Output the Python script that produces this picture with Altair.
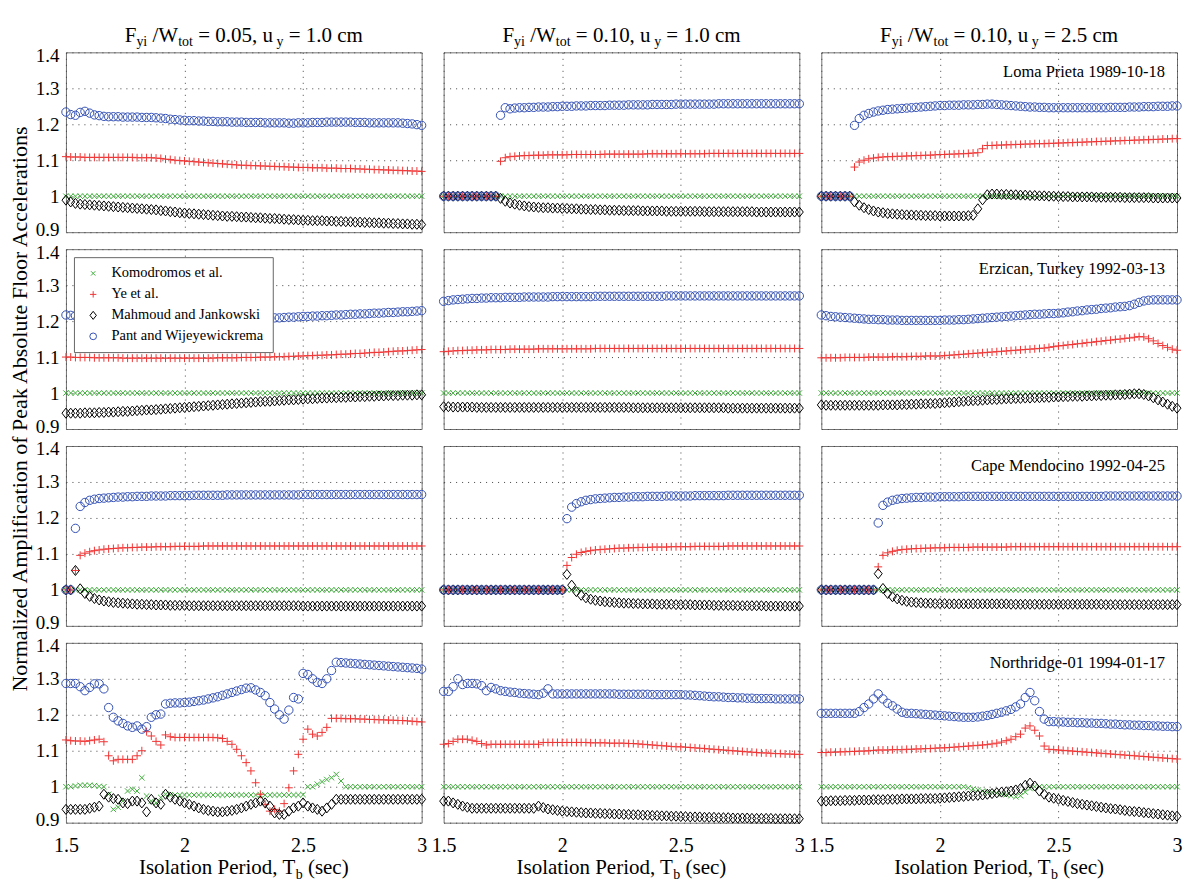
import altair as alt
import pandas as pd

FONT = "Liberation Serif"

T = [1.50, 1.52, 1.54, 1.56, 1.58, 1.60, 1.62, 1.64, 1.66, 1.68,
     1.70, 1.72, 1.74, 1.76, 1.78, 1.80, 1.82, 1.84, 1.86, 1.88,
     1.90, 1.92, 1.94, 1.96, 1.98, 2.00, 2.02, 2.04, 2.06, 2.08,
     2.10, 2.12, 2.14, 2.16, 2.18, 2.20, 2.22, 2.24, 2.26, 2.28,
     2.30, 2.32, 2.34, 2.36, 2.38, 2.40, 2.42, 2.44, 2.46, 2.48,
     2.50, 2.52, 2.54, 2.56, 2.58, 2.60, 2.62, 2.64, 2.66, 2.68,
     2.70, 2.72, 2.74, 2.76, 2.78, 2.80, 2.82, 2.84, 2.86, 2.88,
     2.90, 2.92, 2.94, 2.96, 2.98, 3.00]

SERIES = ["Komodromos et al.", "Ye et al.", "Mahmoud and Jankowski", "Pant and Wijeyewickrema"]
COLORS = ["#3fae3a", "#f03434", "#000000", "#3350b4"]
SHAPES = ["M-0.65,-0.65L0.65,0.65M-0.65,0.65L0.65,-0.65",
          "M-0.95,0L0.95,0M0,-0.95L0,0.95",
          "M0,-1.2L0.95,0L0,1.2L-0.95,0Z",
          "circle"]
COL_TITLES = [("0.05", "1.0"), ("0.10", "1.0"), ("0.10", "2.5")]
EVENTS = ["Loma Prieta 1989-10-18", "Erzican, Turkey 1992-03-13",
          "Cape Mendocino 1992-04-25", "Northridge-01 1994-01-17"]
X_TICKS = [1.5, 2.0, 2.5, 3.0]
Y_TICKS = [0.9, 1.0, 1.1, 1.2, 1.3, 1.4]

ONES = [1.0, 1.0, 1.0, 1.0, 1.0, 1.0, 1.0, 1.0, 1.0, 1.0,
        1.0, 1.0, 1.0, 1.0, 1.0, 1.0, 1.0, 1.0, 1.0, 1.0,
        1.0, 1.0, 1.0, 1.0, 1.0, 1.0, 1.0, 1.0, 1.0, 1.0,
        1.0, 1.0, 1.0, 1.0, 1.0, 1.0, 1.0, 1.0, 1.0, 1.0,
        1.0, 1.0, 1.0, 1.0, 1.0, 1.0, 1.0, 1.0, 1.0, 1.0,
        1.0, 1.0, 1.0, 1.0, 1.0, 1.0, 1.0, 1.0, 1.0, 1.0,
        1.0, 1.0, 1.0, 1.0, 1.0, 1.0, 1.0, 1.0, 1.0, 1.0,
        1.0, 1.0, 1.0, 1.0, 1.0, 1.0]

# ---------------- Loma Prieta ----------------
loma_a_ye = [1.110,1.109,1.109,1.109,1.108,1.108,1.108,1.108,1.108,1.108,
             1.108,1.108,1.108,1.108,1.108,1.107,1.107,1.107,1.107,1.106,
             1.105,1.103,1.102,1.100,1.099,1.098,1.097,1.096,1.095,1.094,
             1.093,1.092,1.091,1.090,1.089,1.088,1.087,1.086,1.086,1.085,
             1.085,1.084,1.084,1.083,1.083,1.082,1.082,1.081,1.081,1.080,
             1.080,1.080,1.079,1.079,1.079,1.078,1.078,1.078,1.077,1.077,
             1.077,1.076,1.076,1.075,1.075,1.074,1.074,1.073,1.073,1.072,
             1.072,1.071,1.071,1.070,1.070,1.069]
loma_a_mah = [0.989,0.984,0.980,0.978,0.977,0.976,0.975,0.974,0.973,0.972,
              0.971,0.970,0.969,0.968,0.967,0.966,0.965,0.964,0.963,0.962,
              0.960,0.959,0.957,0.956,0.954,0.953,0.952,0.951,0.950,0.949,
              0.948,0.947,0.946,0.945,0.944,0.944,0.943,0.942,0.942,0.941,
              0.940,0.940,0.939,0.938,0.938,0.937,0.936,0.935,0.935,0.934,
              0.933,0.933,0.932,0.932,0.932,0.931,0.931,0.930,0.930,0.929,
              0.929,0.928,0.928,0.927,0.927,0.926,0.926,0.925,0.925,0.924,
              0.924,0.923,0.923,0.922,0.922,0.921]
loma_a_pant = [1.234,1.227,1.225,1.233,1.236,1.231,1.226,1.224,1.222,1.221,
               1.221,1.221,1.220,1.220,1.220,1.220,1.219,1.219,1.219,1.218,
               1.217,1.216,1.214,1.213,1.212,1.211,1.210,1.210,1.209,1.209,
               1.208,1.208,1.207,1.207,1.207,1.206,1.206,1.206,1.205,1.205,
               1.205,1.205,1.204,1.204,1.204,1.204,1.204,1.203,1.203,1.204,
               1.204,1.204,1.205,1.205,1.205,1.206,1.206,1.206,1.206,1.206,
               1.206,1.205,1.205,1.205,1.204,1.204,1.204,1.204,1.204,1.204,
               1.204,1.203,1.202,1.201,1.199,1.197]

loma_b_ye = [1.0,1.0,1.0,1.0,1.0,1.0,1.0,1.0,1.0,1.0,
             1.0,1.0,1.097,1.107,1.110,1.111,1.112,1.113,1.113,1.114,
             1.114,1.114,1.115,1.115,1.115,1.115,1.115,1.116,1.116,1.116,
             1.116,1.116,1.116,1.116,1.117,1.117,1.117,1.117,1.117,1.117,
             1.117,1.117,1.117,1.118,1.118,1.118,1.118,1.118,1.118,1.118,
             1.118,1.118,1.118,1.118,1.118,1.118,1.119,1.119,1.119,1.119,
             1.119,1.119,1.119,1.119,1.119,1.119,1.119,1.119,1.119,1.119,
             1.119,1.119,1.119,1.119,1.119,1.119]
loma_b_mah = [1.0,1.0,1.0,1.0,1.0,1.0,1.0,1.0,1.0,1.0,
              1.0,1.0,0.994,0.986,0.981,0.978,0.975,0.973,0.971,0.970,
              0.969,0.968,0.968,0.967,0.967,0.966,0.966,0.965,0.965,0.964,
              0.964,0.963,0.963,0.962,0.962,0.961,0.961,0.961,0.960,0.960,
              0.960,0.960,0.959,0.959,0.959,0.959,0.959,0.958,0.958,0.958,
              0.958,0.958,0.958,0.958,0.958,0.957,0.957,0.957,0.957,0.957,
              0.957,0.957,0.957,0.957,0.957,0.957,0.956,0.956,0.956,0.956,
              0.956,0.956,0.956,0.956,0.956,0.956]
loma_b_pant = [1.0,1.0,1.0,1.0,1.0,1.0,1.0,1.0,1.0,1.0,
               1.0,1.0,1.225,1.246,1.243,1.245,1.246,1.246,1.247,1.247,
               1.248,1.248,1.248,1.249,1.249,1.250,1.250,1.250,1.251,1.251,
               1.251,1.252,1.252,1.252,1.252,1.253,1.253,1.253,1.253,1.254,
               1.254,1.254,1.254,1.254,1.255,1.255,1.255,1.255,1.255,1.256,
               1.256,1.256,1.256,1.256,1.256,1.256,1.256,1.256,1.257,1.257,
               1.257,1.257,1.257,1.257,1.257,1.257,1.257,1.257,1.257,1.257,
               1.257,1.257,1.257,1.257,1.257,1.257]

loma_c_ye = [1.0,1.0,1.0,1.0,1.0,1.0,1.0,1.081,1.095,1.100,
             1.104,1.106,1.108,1.109,1.110,1.110,1.111,1.111,1.112,1.112,
             1.113,1.113,1.114,1.114,1.115,1.116,1.116,1.117,1.117,1.118,
             1.118,1.119,1.120,1.121,1.132,1.141,1.141,1.142,1.142,1.143,
             1.143,1.144,1.144,1.145,1.145,1.146,1.146,1.146,1.147,1.147,
             1.148,1.148,1.149,1.149,1.150,1.150,1.151,1.151,1.152,1.152,
             1.153,1.153,1.154,1.154,1.155,1.155,1.156,1.156,1.157,1.157,
             1.158,1.158,1.159,1.159,1.160,1.160]
loma_c_mah = [1.0,1.0,1.0,1.0,1.0,1.0,1.0,0.984,0.975,0.968,
              0.963,0.959,0.956,0.954,0.952,0.951,0.950,0.949,0.948,0.948,
              0.947,0.947,0.946,0.946,0.946,0.945,0.945,0.945,0.945,0.945,
              0.945,0.946,0.947,0.965,0.990,1.004,1.006,1.006,1.005,1.005,
              1.004,1.004,1.003,1.003,1.002,1.002,1.001,1.001,1.000,1.000,
              0.999,0.999,0.999,0.998,0.998,0.998,0.998,0.998,0.997,0.997,
              0.997,0.997,0.997,0.997,0.996,0.996,0.996,0.996,0.996,0.996,
              0.995,0.995,0.995,0.995,0.995,0.995]
loma_c_pant = [1.0,1.0,1.0,1.0,1.0,1.0,1.0,1.197,1.216,1.225,
               1.230,1.234,1.237,1.239,1.241,1.242,1.243,1.244,1.245,1.246,
               1.247,1.248,1.249,1.250,1.251,1.252,1.252,1.253,1.253,1.253,
               1.254,1.254,1.254,1.255,1.255,1.256,1.256,1.255,1.254,1.253,
               1.252,1.251,1.250,1.249,1.248,1.248,1.247,1.247,1.246,1.246,
               1.246,1.246,1.246,1.246,1.246,1.246,1.246,1.246,1.246,1.246,
               1.246,1.247,1.247,1.247,1.247,1.248,1.248,1.248,1.249,1.249,
               1.249,1.250,1.250,1.250,1.251,1.251]

# ---------------- Erzican ----------------
erz_a_ye = [1.100,1.100,1.099,1.099,1.099,1.099,1.098,1.098,1.098,1.098,
            1.098,1.098,1.097,1.097,1.097,1.097,1.097,1.097,1.097,1.097,
            1.097,1.097,1.097,1.097,1.097,1.097,1.097,1.097,1.097,1.097,
            1.097,1.097,1.098,1.098,1.098,1.098,1.098,1.099,1.099,1.099,
            1.099,1.100,1.100,1.100,1.101,1.101,1.101,1.102,1.102,1.103,
            1.103,1.104,1.104,1.105,1.105,1.106,1.106,1.107,1.108,1.108,
            1.109,1.110,1.110,1.111,1.112,1.113,1.113,1.114,1.115,1.116,
            1.117,1.117,1.118,1.119,1.120,1.121]
erz_a_mah = [0.944,0.944,0.944,0.944,0.945,0.945,0.945,0.946,0.946,0.947,
             0.947,0.948,0.949,0.949,0.950,0.951,0.952,0.953,0.953,0.954,
             0.955,0.956,0.957,0.958,0.959,0.960,0.961,0.962,0.963,0.964,
             0.965,0.966,0.967,0.968,0.969,0.970,0.971,0.972,0.973,0.974,
             0.975,0.976,0.977,0.977,0.978,0.979,0.980,0.981,0.981,0.982,
             0.983,0.984,0.984,0.985,0.986,0.986,0.987,0.987,0.988,0.988,
             0.989,0.989,0.990,0.990,0.991,0.991,0.992,0.992,0.993,0.993,
             0.993,0.994,0.994,0.994,0.995,0.995]
erz_a_pant = [1.217,1.216,1.215,1.214,1.213,1.212,1.211,1.210,1.209,1.208,
              1.208,1.207,1.207,1.206,1.206,1.205,1.205,1.205,1.204,1.204,
              1.204,1.204,1.204,1.204,1.204,1.204,1.204,1.204,1.204,1.204,
              1.204,1.204,1.204,1.205,1.205,1.205,1.205,1.206,1.206,1.206,
              1.207,1.207,1.208,1.208,1.209,1.209,1.210,1.211,1.211,1.212,
              1.213,1.213,1.214,1.214,1.215,1.215,1.216,1.217,1.217,1.218,
              1.219,1.219,1.220,1.220,1.221,1.222,1.222,1.223,1.224,1.224,
              1.225,1.226,1.226,1.227,1.228,1.229]

erz_b_ye = [1.115,1.116,1.117,1.118,1.118,1.119,1.119,1.120,1.120,1.120,
            1.121,1.121,1.121,1.121,1.122,1.122,1.122,1.122,1.122,1.122,
            1.123,1.123,1.123,1.123,1.123,1.123,1.123,1.123,1.123,1.123,
            1.123,1.123,1.124,1.124,1.124,1.124,1.124,1.124,1.124,1.124,
            1.124,1.124,1.124,1.124,1.124,1.124,1.124,1.124,1.124,1.124,
            1.124,1.124,1.124,1.124,1.124,1.124,1.124,1.124,1.124,1.124,
            1.124,1.124,1.124,1.124,1.124,1.124,1.124,1.124,1.124,1.124,
            1.124,1.124,1.124,1.124,1.124,1.124]
erz_b_mah = [0.962,0.962,0.961,0.961,0.961,0.961,0.961,0.960,0.960,0.960,
             0.960,0.960,0.960,0.960,0.960,0.960,0.960,0.960,0.960,0.960,
             0.960,0.960,0.960,0.960,0.960,0.960,0.960,0.960,0.960,0.960,
             0.960,0.960,0.960,0.960,0.960,0.960,0.960,0.960,0.960,0.960,
             0.959,0.959,0.959,0.959,0.959,0.959,0.959,0.959,0.959,0.959,
             0.959,0.959,0.959,0.959,0.959,0.959,0.959,0.959,0.959,0.959,
             0.958,0.958,0.958,0.958,0.958,0.958,0.958,0.958,0.958,0.958,
             0.958,0.958,0.958,0.958,0.958,0.958]
erz_b_pant = [1.255,1.257,1.259,1.260,1.261,1.262,1.263,1.263,1.264,1.264,
              1.265,1.265,1.265,1.266,1.266,1.266,1.266,1.267,1.267,1.267,
              1.267,1.267,1.267,1.268,1.268,1.268,1.268,1.268,1.268,1.268,
              1.268,1.268,1.269,1.269,1.269,1.269,1.269,1.269,1.269,1.269,
              1.269,1.269,1.269,1.269,1.269,1.269,1.269,1.270,1.270,1.270,
              1.270,1.270,1.270,1.270,1.270,1.270,1.270,1.270,1.270,1.270,
              1.270,1.270,1.270,1.270,1.270,1.270,1.270,1.270,1.270,1.270,
              1.270,1.270,1.270,1.270,1.270,1.270]

erz_c_ye = [1.098,1.098,1.098,1.098,1.098,1.099,1.099,1.099,1.099,1.099,
            1.100,1.100,1.100,1.100,1.100,1.101,1.101,1.101,1.101,1.102,
            1.102,1.102,1.103,1.103,1.103,1.103,1.104,1.105,1.106,1.107,
            1.108,1.109,1.110,1.111,1.112,1.113,1.114,1.115,1.116,1.117,
            1.118,1.119,1.120,1.121,1.122,1.123,1.124,1.125,1.127,1.129,
            1.131,1.132,1.134,1.135,1.137,1.138,1.140,1.141,1.143,1.144,
            1.146,1.147,1.149,1.150,1.152,1.153,1.155,1.157,1.156,1.151,
            1.145,1.138,1.132,1.127,1.122,1.119]
erz_c_mah = [0.967,0.966,0.966,0.966,0.966,0.966,0.966,0.966,0.966,0.966,
             0.966,0.966,0.966,0.967,0.967,0.967,0.967,0.968,0.968,0.969,
             0.969,0.970,0.970,0.971,0.971,0.972,0.973,0.974,0.975,0.976,
             0.977,0.978,0.979,0.979,0.980,0.981,0.982,0.982,0.983,0.984,
             0.984,0.985,0.985,0.986,0.986,0.987,0.987,0.988,0.988,0.989,
             0.989,0.990,0.990,0.991,0.991,0.991,0.992,0.992,0.993,0.993,
             0.994,0.994,0.995,0.995,0.996,0.997,0.998,0.998,0.996,0.992,
             0.987,0.981,0.975,0.969,0.963,0.958]
erz_c_pant = [1.217,1.215,1.213,1.212,1.211,1.210,1.209,1.208,1.207,1.206,
              1.205,1.205,1.204,1.204,1.203,1.203,1.203,1.202,1.202,1.202,
              1.202,1.202,1.202,1.202,1.202,1.202,1.203,1.203,1.203,1.204,
              1.204,1.205,1.206,1.207,1.208,1.209,1.210,1.211,1.212,1.213,
              1.214,1.215,1.216,1.217,1.218,1.219,1.219,1.220,1.221,1.221,
              1.222,1.223,1.225,1.226,1.228,1.229,1.231,1.232,1.233,1.235,
              1.236,1.237,1.239,1.240,1.241,1.243,1.247,1.252,1.256,1.258,
              1.259,1.259,1.259,1.259,1.259,1.259]

# ---------------- Cape Mendocino ----------------
cape_a_ye = [1.000,1.000,1.054,1.096,1.102,1.106,1.109,1.111,1.113,1.114,
             1.115,1.116,1.117,1.117,1.118,1.118,1.119,1.119,1.119,1.120,
             1.120,1.120,1.120,1.121,1.121,1.121,1.121,1.121,1.121,1.122,
             1.122,1.122,1.122,1.122,1.122,1.122,1.122,1.122,1.122,1.122,
             1.122,1.122,1.122,1.122,1.122,1.122,1.122,1.122,1.122,1.122,
             1.122,1.122,1.122,1.122,1.122,1.122,1.122,1.122,1.122,1.122,
             1.122,1.122,1.122,1.122,1.122,1.122,1.122,1.122,1.122,1.122,
             1.122,1.122,1.122,1.122,1.122,1.122]
cape_a_mah = [1.000,1.000,1.054,1.003,0.990,0.982,0.976,0.972,0.969,0.967,
              0.965,0.964,0.963,0.962,0.961,0.960,0.960,0.959,0.959,0.958,
              0.958,0.958,0.957,0.957,0.957,0.957,0.956,0.956,0.956,0.956,
              0.956,0.956,0.956,0.956,0.956,0.956,0.956,0.956,0.956,0.956,
              0.956,0.956,0.956,0.956,0.956,0.956,0.956,0.956,0.956,0.956,
              0.955,0.955,0.955,0.955,0.955,0.955,0.955,0.955,0.955,0.955,
              0.955,0.955,0.955,0.955,0.955,0.955,0.955,0.955,0.955,0.955,
              0.955,0.955,0.955,0.955,0.955,0.955]
cape_a_pant = [1.000,1.000,1.171,1.232,1.243,1.249,1.252,1.254,1.255,1.256,
               1.257,1.258,1.258,1.259,1.259,1.260,1.260,1.260,1.261,1.261,
               1.261,1.261,1.262,1.262,1.262,1.262,1.262,1.263,1.263,1.263,
               1.263,1.263,1.263,1.263,1.264,1.264,1.264,1.264,1.264,1.264,
               1.264,1.264,1.264,1.264,1.264,1.264,1.264,1.264,1.264,1.264,
               1.265,1.265,1.265,1.265,1.265,1.265,1.265,1.265,1.265,1.265,
               1.265,1.265,1.265,1.265,1.265,1.265,1.265,1.265,1.265,1.265,
               1.265,1.265,1.265,1.265,1.265,1.265]

cape_b_ye = [1.0,1.0,1.0,1.0,1.0,1.0,1.0,1.0,1.0,1.0,
             1.0,1.0,1.0,1.0,1.0,1.0,1.0,1.0,1.0,1.0,
             1.0,1.0,1.0,1.0,1.0,1.0,1.068,1.090,1.099,1.104,
             1.107,1.109,1.111,1.112,1.113,1.114,1.115,1.116,1.116,1.117,
             1.117,1.118,1.118,1.118,1.119,1.119,1.119,1.119,1.120,1.120,
             1.120,1.120,1.120,1.121,1.121,1.121,1.121,1.121,1.121,1.121,
             1.122,1.122,1.122,1.122,1.122,1.122,1.122,1.122,1.122,1.122,
             1.122,1.122,1.122,1.122,1.122,1.122]
cape_b_mah = [1.0,1.0,1.0,1.0,1.0,1.0,1.0,1.0,1.0,1.0,
              1.0,1.0,1.0,1.0,1.0,1.0,1.0,1.0,1.0,1.0,
              1.0,1.0,1.0,1.0,1.0,1.0,1.043,1.013,0.995,0.985,
              0.978,0.974,0.971,0.969,0.967,0.966,0.965,0.964,0.963,0.963,
              0.962,0.962,0.961,0.961,0.961,0.960,0.960,0.960,0.960,0.959,
              0.959,0.959,0.959,0.958,0.958,0.958,0.958,0.957,0.957,0.957,
              0.957,0.957,0.956,0.956,0.956,0.956,0.956,0.956,0.955,0.955,
              0.955,0.955,0.955,0.955,0.955,0.955]
cape_b_pant = [1.0,1.0,1.0,1.0,1.0,1.0,1.0,1.0,1.0,1.0,
               1.0,1.0,1.0,1.0,1.0,1.0,1.0,1.0,1.0,1.0,
               1.0,1.0,1.0,1.0,1.0,1.0,1.198,1.230,1.240,1.245,
               1.249,1.251,1.253,1.254,1.255,1.256,1.257,1.257,1.258,1.258,
               1.259,1.259,1.259,1.260,1.260,1.260,1.260,1.261,1.261,1.261,
               1.261,1.261,1.261,1.262,1.262,1.262,1.262,1.262,1.262,1.262,
               1.263,1.263,1.263,1.263,1.263,1.263,1.263,1.263,1.263,1.263,
               1.263,1.263,1.263,1.263,1.263,1.263]

cape_c_ye = [1.0,1.0,1.0,1.0,1.0,1.0,1.0,1.0,1.0,1.0,
             1.0,1.0,1.064,1.096,1.103,1.107,1.110,1.112,1.113,1.114,
             1.115,1.115,1.116,1.116,1.117,1.117,1.117,1.118,1.118,1.118,
             1.118,1.118,1.119,1.119,1.119,1.119,1.119,1.119,1.119,1.119,
             1.120,1.120,1.120,1.120,1.120,1.120,1.120,1.120,1.120,1.120,
             1.120,1.120,1.120,1.120,1.120,1.120,1.120,1.120,1.120,1.120,
             1.120,1.120,1.120,1.120,1.120,1.120,1.120,1.120,1.120,1.120,
             1.120,1.120,1.120,1.120,1.120,1.120]
cape_c_mah = [1.0,1.0,1.0,1.0,1.0,1.0,1.0,1.0,1.0,1.0,
              1.0,1.0,1.045,1.004,0.990,0.981,0.975,0.971,0.968,0.966,
              0.965,0.964,0.963,0.963,0.962,0.962,0.962,0.961,0.961,0.961,
              0.961,0.961,0.961,0.961,0.961,0.961,0.961,0.961,0.961,0.961,
              0.960,0.960,0.960,0.960,0.960,0.960,0.960,0.960,0.960,0.960,
              0.960,0.960,0.960,0.960,0.960,0.960,0.960,0.960,0.960,0.960,
              0.959,0.959,0.959,0.959,0.959,0.959,0.959,0.959,0.959,0.959,
              0.959,0.959,0.959,0.959,0.959,0.959]
cape_c_pant = [1.0,1.0,1.0,1.0,1.0,1.0,1.0,1.0,1.0,1.0,
               1.0,1.0,1.186,1.235,1.244,1.249,1.252,1.254,1.255,1.256,
               1.257,1.257,1.258,1.258,1.258,1.259,1.259,1.259,1.259,1.259,
               1.260,1.260,1.260,1.260,1.260,1.260,1.260,1.260,1.260,1.260,
               1.260,1.260,1.260,1.260,1.260,1.260,1.260,1.260,1.260,1.260,
               1.260,1.260,1.260,1.260,1.260,1.260,1.260,1.260,1.260,1.260,
               1.261,1.261,1.261,1.261,1.261,1.261,1.261,1.261,1.261,1.261,
               1.261,1.261,1.261,1.261,1.261,1.261]

# ---------------- Northridge ----------------
nor_a_kom = [1.000,1.000,1.002,1.004,1.004,1.004,1.003,1.001,1.000,0.979,
             0.937,0.943,0.960,0.988,0.993,0.988,1.025,0.974,0.960,0.955,
             0.970,0.979,0.977,0.977,0.977,0.977,0.977,0.977,0.977,0.977,
             0.977,0.977,0.977,0.977,0.977,0.977,0.977,0.977,0.977,0.977,
             0.977,0.977,0.977,0.977,0.977,0.977,0.977,0.977,0.977,0.977,
             0.978,1.000,1.000,1.007,1.014,1.020,1.025,1.034,1.016,1.000,
             1.000,1.000,1.000,1.000,1.000,1.000,1.000,1.000,1.000,1.000,
             1.000,1.000,1.000,1.000,1.000,1.000]
nor_a_ye = [1.130,1.128,1.127,1.127,1.126,1.128,1.130,1.132,1.125,1.086,
            1.072,1.076,1.076,1.076,1.076,1.086,1.100,1.153,1.141,1.126,
            1.116,1.144,1.139,1.137,1.137,1.137,1.137,1.137,1.137,1.137,
            1.137,1.137,1.136,1.134,1.126,1.118,1.104,1.086,1.067,1.044,
            1.011,0.979,0.951,0.932,0.937,0.932,0.953,0.997,1.044,1.090,
            1.132,1.160,1.146,1.141,1.151,1.165,1.190,1.190,1.190,1.189,
            1.189,1.189,1.188,1.188,1.187,1.187,1.186,1.186,1.185,1.185,
            1.184,1.184,1.183,1.182,1.181,1.180]
nor_a_mah = [0.937,0.937,0.937,0.937,0.937,0.940,0.943,0.946,0.979,0.971,
             0.967,0.965,0.955,0.953,0.960,0.960,0.955,0.930,0.965,0.955,
             0.951,0.979,0.971,0.965,0.960,0.955,0.951,0.946,0.941,0.937,
             0.934,0.932,0.930,0.930,0.932,0.934,0.937,0.941,0.946,0.951,
             0.955,0.960,0.955,0.946,0.927,0.923,0.923,0.932,0.941,0.946,
             0.955,0.946,0.941,0.937,0.932,0.941,0.951,0.965,0.965,0.965,
             0.965,0.965,0.965,0.965,0.965,0.965,0.965,0.965,0.965,0.965,
             0.965,0.965,0.965,0.965,0.965,0.965]
nor_a_pant = [1.287,1.287,1.287,1.278,1.267,1.276,1.286,1.286,1.272,1.220,
              1.193,1.183,1.176,1.169,1.165,1.169,1.160,1.167,1.193,1.200,
              1.202,1.230,1.232,1.233,1.233,1.234,1.235,1.237,1.239,1.241,
              1.244,1.247,1.250,1.254,1.258,1.262,1.266,1.270,1.274,1.275,
              1.269,1.262,1.253,1.234,1.216,1.200,1.188,1.213,1.248,1.244,
              1.315,1.312,1.300,1.290,1.287,1.300,1.323,1.346,1.345,1.344,
              1.343,1.342,1.341,1.340,1.339,1.338,1.337,1.336,1.335,1.334,
              1.333,1.332,1.331,1.330,1.329,1.327]

nor_b_ye = [1.118,1.120,1.126,1.132,1.132,1.132,1.129,1.126,1.120,1.116,
            1.118,1.118,1.118,1.118,1.118,1.118,1.118,1.118,1.118,1.118,
            1.118,1.123,1.123,1.123,1.123,1.123,1.123,1.123,1.123,1.123,
            1.123,1.122,1.122,1.122,1.122,1.121,1.121,1.121,1.121,1.120,
            1.120,1.119,1.118,1.117,1.116,1.115,1.114,1.113,1.112,1.111,
            1.111,1.110,1.109,1.108,1.107,1.106,1.105,1.104,1.103,1.102,
            1.101,1.100,1.099,1.098,1.097,1.096,1.095,1.094,1.094,1.093,
            1.092,1.092,1.091,1.091,1.090,1.090]
nor_b_mah = [0.960,0.960,0.955,0.951,0.946,0.943,0.940,0.940,0.940,0.940,
             0.940,0.940,0.940,0.940,0.940,0.940,0.940,0.940,0.940,0.940,
             0.946,0.942,0.938,0.936,0.934,0.932,0.931,0.930,0.929,0.928,
             0.927,0.927,0.926,0.926,0.925,0.925,0.924,0.924,0.923,0.923,
             0.922,0.922,0.921,0.921,0.920,0.920,0.919,0.919,0.918,0.918,
             0.917,0.917,0.916,0.916,0.916,0.915,0.915,0.915,0.914,0.914,
             0.914,0.913,0.913,0.913,0.913,0.912,0.912,0.912,0.912,0.912,
             0.911,0.911,0.911,0.911,0.911,0.911]
nor_b_pant = [1.265,1.265,1.278,1.300,1.284,1.287,1.287,1.286,1.281,1.267,
              1.276,1.272,1.267,1.265,1.263,1.262,1.260,1.259,1.258,1.257,
              1.256,1.260,1.272,1.258,1.258,1.258,1.258,1.258,1.258,1.258,
              1.258,1.258,1.258,1.258,1.258,1.258,1.258,1.257,1.257,1.257,
              1.257,1.257,1.257,1.257,1.256,1.256,1.256,1.256,1.256,1.256,
              1.256,1.255,1.255,1.254,1.253,1.252,1.251,1.250,1.250,1.249,
              1.248,1.248,1.247,1.247,1.246,1.246,1.245,1.245,1.245,1.245,
              1.244,1.244,1.244,1.244,1.244,1.244]

nor_c_kom = [1.0,1.0,1.0,1.0,1.0,1.0,1.0,1.0,1.0,1.0,
             1.0,1.0,1.0,1.0,1.0,1.0,1.0,1.0,1.0,1.0,
             1.0,1.0,1.0,1.0,1.0,1.0,1.0,1.0,1.0,1.0,
             1.000,0.997,0.994,0.991,0.988,0.986,0.984,0.982,0.980,0.978,
             0.975,0.972,0.975,0.985,0.995,1.000,1.000,1.000,1.000,1.000,
             1.0,1.0,1.0,1.0,1.0,1.0,1.0,1.0,1.0,1.0,
             1.0,1.0,1.0,1.0,1.0,1.0,1.0,1.0,1.0,1.0,
             1.0,1.0,1.0,1.0,1.0,1.0]
nor_c_ye = [1.095,1.095,1.096,1.096,1.097,1.097,1.098,1.098,1.099,1.099,
            1.100,1.101,1.102,1.102,1.102,1.103,1.103,1.103,1.104,1.104,
            1.105,1.105,1.106,1.106,1.107,1.108,1.108,1.109,1.110,1.111,
            1.112,1.113,1.114,1.115,1.116,1.117,1.119,1.121,1.124,1.128,
            1.132,1.139,1.146,1.163,1.169,1.157,1.141,1.113,1.104,1.103,
            1.102,1.101,1.100,1.099,1.098,1.097,1.096,1.095,1.094,1.093,
            1.092,1.091,1.090,1.089,1.088,1.087,1.086,1.085,1.084,1.083,
            1.082,1.081,1.080,1.079,1.078,1.077]
nor_c_mah = [0.960,0.960,0.961,0.961,0.961,0.962,0.962,0.962,0.963,0.963,
             0.963,0.964,0.964,0.964,0.965,0.965,0.965,0.966,0.966,0.966,
             0.966,0.967,0.967,0.967,0.967,0.968,0.969,0.970,0.971,0.972,
             0.973,0.974,0.975,0.976,0.977,0.979,0.981,0.983,0.985,0.986,
             0.988,0.991,0.995,1.004,1.010,1.002,0.988,0.979,0.971,0.968,
             0.965,0.962,0.959,0.956,0.953,0.951,0.949,0.947,0.945,0.943,
             0.941,0.939,0.938,0.936,0.934,0.932,0.931,0.930,0.928,0.927,
             0.925,0.924,0.922,0.921,0.919,0.918]
nor_c_pant = [1.204,1.204,1.204,1.204,1.204,1.204,1.204,1.204,1.209,1.220,
              1.230,1.244,1.258,1.244,1.232,1.225,1.216,1.207,1.204,1.204,
              1.203,1.202,1.201,1.200,1.199,1.198,1.197,1.196,1.195,1.194,
              1.193,1.193,1.193,1.194,1.196,1.198,1.201,1.204,1.207,1.211,
              1.215,1.222,1.230,1.248,1.262,1.239,1.209,1.188,1.181,1.181,
              1.180,1.180,1.179,1.179,1.178,1.178,1.177,1.177,1.176,1.176,
              1.175,1.174,1.174,1.173,1.172,1.172,1.171,1.171,1.170,1.170,
              1.169,1.169,1.168,1.168,1.167,1.167]

PANELS = [
    [(ONES, loma_a_ye, loma_a_mah, loma_a_pant),
     (ONES, loma_b_ye, loma_b_mah, loma_b_pant),
     (ONES, loma_c_ye, loma_c_mah, loma_c_pant)],
    [(ONES, erz_a_ye, erz_a_mah, erz_a_pant),
     (ONES, erz_b_ye, erz_b_mah, erz_b_pant),
     (ONES, erz_c_ye, erz_c_mah, erz_c_pant)],
    [(ONES, cape_a_ye, cape_a_mah, cape_a_pant),
     (ONES, cape_b_ye, cape_b_mah, cape_b_pant),
     (ONES, cape_c_ye, cape_c_mah, cape_c_pant)],
    [(nor_a_kom, nor_a_ye, nor_a_mah, nor_a_pant),
     (ONES, nor_b_ye, nor_b_mah, nor_b_pant),
     (nor_c_kom, nor_c_ye, nor_c_mah, nor_c_pant)],
]

for r, row in enumerate(PANELS):
    for c, group in enumerate(row):
        for k, lst in enumerate(group):
            assert len(lst) == len(T), f"panel {r},{c} series {k}: {len(lst)}"

# Times / Liberation Serif advance widths (per 1000 em)
CW = {" ": 250, ",": 250, ".": 250, "-": 333, "/": 278, "=": 564, "(": 333, ")": 333,
      "A": 722, "F": 556, "I": 333, "N": 722, "P": 556, "T": 611, "W": 944,
      "a": 444, "b": 500, "c": 444, "d": 500, "e": 444, "f": 333, "i": 278, "k": 500,
      "l": 278, "m": 778, "n": 500, "o": 500, "p": 500, "r": 333, "s": 389, "t": 278,
      "u": 500, "y": 500, "z": 444}
for dch in "0123456789":
    CW[dch] = 500


def tw(s, size):
    return sum(CW.get(ch, 500) for ch in s) * size / 1000.0


W, H = 356, 180
MAIN, SUB = 21, 14


def one_text(text, x, y, size, align="left", angle=0, baseline="alphabetic"):
    kw = dict(text=text, font=FONT, fontSize=size, align=align,
              baseline=baseline, color="black")
    if angle:
        kw["angle"] = angle
    return alt.Chart(alt.Data(values=[{}])).mark_text(**kw).encode(
        x=alt.value(x), y=alt.value(y))


def seg_texts(segments, cx, base_y):
    total = sum(tw(t, s) for t, s, d in segments)
    x = cx - total / 2.0
    out = []
    for t, s, d in segments:
        lead = len(t) - len(t.lstrip(" "))
        out.append(one_text(t.strip(" "), x + tw(" " * lead, s), base_y + d, s))
        x += tw(t, s)
    return out


LEG = alt.Legend(title=None, orient="top-left", offset=8, fillColor="white",
                 strokeColor="#666666", padding=9, labelFont=FONT,
                 labelFontSize=14.5, labelColor="black", labelLimit=400,
                 symbolSize=45, symbolStrokeWidth=1, symbolOffset=3,
                 labelOffset=11, rowPadding=6, cornerRadius=0)

# nudge the end labels (0.9 / 1.4) of stacked rows slightly apart
Y_LABEL_OFFSET = {"condition": [{"test": "datum.value < 0.95", "value": -3},
                                {"test": "datum.value > 1.35", "value": 3}],
                  "value": 0}

charts = []
for r, row in enumerate(PANELS):
    for c, group in enumerate(row):
        recs = []
        for sname, vals in zip(SERIES, group):
            for t, v in zip(T, vals):
                recs.append({"T": t, "v": v, "series": sname})
        df = pd.DataFrame(recs)
        left = (c == 0)
        bottom = (r == len(PANELS) - 1)
        leg = LEG if (r == 1 and c == 0) else None
        pts = alt.Chart(df).mark_point(filled=False, size=70, strokeWidth=1,
                                       opacity=1).encode(
            x=alt.X("T:Q", scale=alt.Scale(domain=[1.5, 3.0], nice=False, zero=False),
                    axis=alt.Axis(values=X_TICKS, format="~g", labels=bottom,
                                  labelPadding=13, labelFlush=False, title=None)),
            y=alt.Y("v:Q", scale=alt.Scale(domain=[0.9, 1.4], nice=False, zero=False),
                    axis=alt.Axis(values=Y_TICKS, format="~g", labels=left,
                                  labelPadding=7, labelFlush=False,
                                  labelOffset=Y_LABEL_OFFSET, labelFontSize=19,
                                  labelOverlap=False, title=None)),
            color=alt.Color("series:N", sort=SERIES,
                            scale=alt.Scale(domain=SERIES, range=COLORS), legend=leg),
            shape=alt.Shape("series:N", sort=SERIES,
                            scale=alt.Scale(domain=SERIES, range=SHAPES), legend=leg),
        )
        layers = [pts]
        if r == 0:
            fr, uy = COL_TITLES[c]
            segs = [("F", MAIN, 0), ("yi", SUB, 4), (" /W", MAIN, 0), ("tot", SUB, 4),
                    (" = " + fr + ", u", MAIN, 0), (" y", SUB, 4),
                    (" = " + uy + " cm", MAIN, 0)]
            layers += seg_texts(segs, W / 2.0, -10)
        if c == 2:
            layers.append(one_text(EVENTS[r], W - 12, 25, 16.5, align="right"))
        if bottom:
            segs = [("Isolation Period, T", MAIN, 0), ("b", SUB, 5), (" (sec)", MAIN, 0)]
            layers += seg_texts(segs, W / 2.0, H + 51)
        if r == 1 and c == 0:
            layers.append(one_text(
                "Normalized Amplification of Peak Absolute Floor Accelerations",
                -46, 160, 22, align="center", angle=270, baseline="middle"))
        charts.append(alt.layer(*layers).properties(width=W, height=H))

chart = alt.concat(*charts, columns=3, spacing={"row": 17, "column": 22},
                   bounds="flush").resolve_legend(
    color="independent", shape="independent"
).properties(
    padding={"left": 0, "top": 16, "right": 0, "bottom": 0}
).configure_view(
    stroke="#707070", strokeWidth=1
).configure_axis(
    grid=True, gridColor="#444444", gridDash=[1, 5], gridWidth=1, gridOpacity=1,
    ticks=False, domain=False, labelFont=FONT, labelFontSize=20, labelColor="black"
)

chart.save("out.html", embed_options={"renderer": "svg", "actions": False})
